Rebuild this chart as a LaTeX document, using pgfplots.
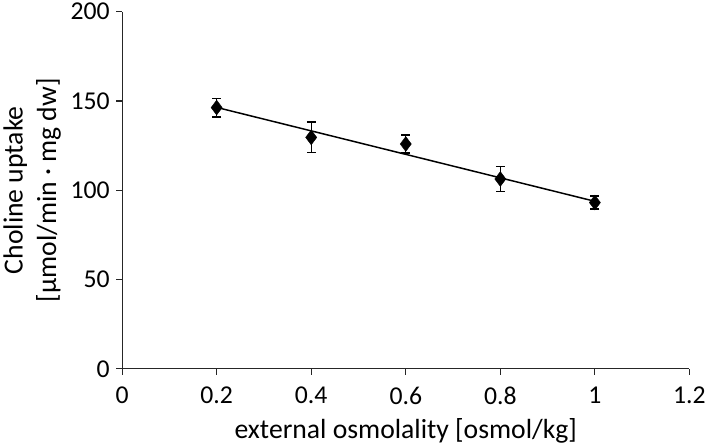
\documentclass[border=0pt]{standalone}
\usepackage{pgfplots}
\pgfplotsset{compat=1.18}
\usepackage{fontspec}
\setmainfont{Carlito}
\begin{document}
\begin{tikzpicture}
\begin{axis}[
  scale only axis,
  width=572bp, height=360bp,
  xmin=0, xmax=1.2, ymin=0, ymax=200,
  xtick={0,0.2,0.4,0.6,0.8,1,1.2},
  ytick={0,50,100,150,200},
  axis x line*=bottom, axis y line*=left,
  axis line style={line width=1.2bp, color=black!85},
  tick align=outside, major tick length=6bp,
  tick style={line width=1.2bp, color=black!85},
  font=\fontsize{26}{32}\selectfont,
  label style={font=\fontsize{28}{34}\selectfont},
  /pgf/number format/assume math mode=true,
  xticklabel style={yshift=-9bp},
  yticklabel style={xshift=-3bp},
  xlabel={external osmolality [osmol/kg]},
  ylabel={Choline uptake\\{[µmol/min · mg dw]}},
  ylabel style={align=center, yshift=3bp},
  xlabel style={yshift=-7bp},
  clip=false,
]
% trend line
\addplot[black, line width=1.5bp] coordinates {(0.2,146.4) (1.0,93.8)};
% data with error bars
\addplot[only marks, mark=diamond*, mark size=7.5bp, black,
  error bars/.cd, y dir=both, y explicit,
  error bar style={line width=1.4bp, black},
  error mark options={rotate=90, mark size=4.5bp, line width=1.4bp, black}]
  coordinates {
  (0.2,146.3) +- (0,5.2)
  (0.4,129.6) +- (0,8.6)
  (0.6,125.9) +- (0,5.0)
  (0.8,106.3) +- (0,7.0)
  (1.0,93.1) +- (0,3.6)
};
\end{axis}
\end{tikzpicture}
\end{document}
